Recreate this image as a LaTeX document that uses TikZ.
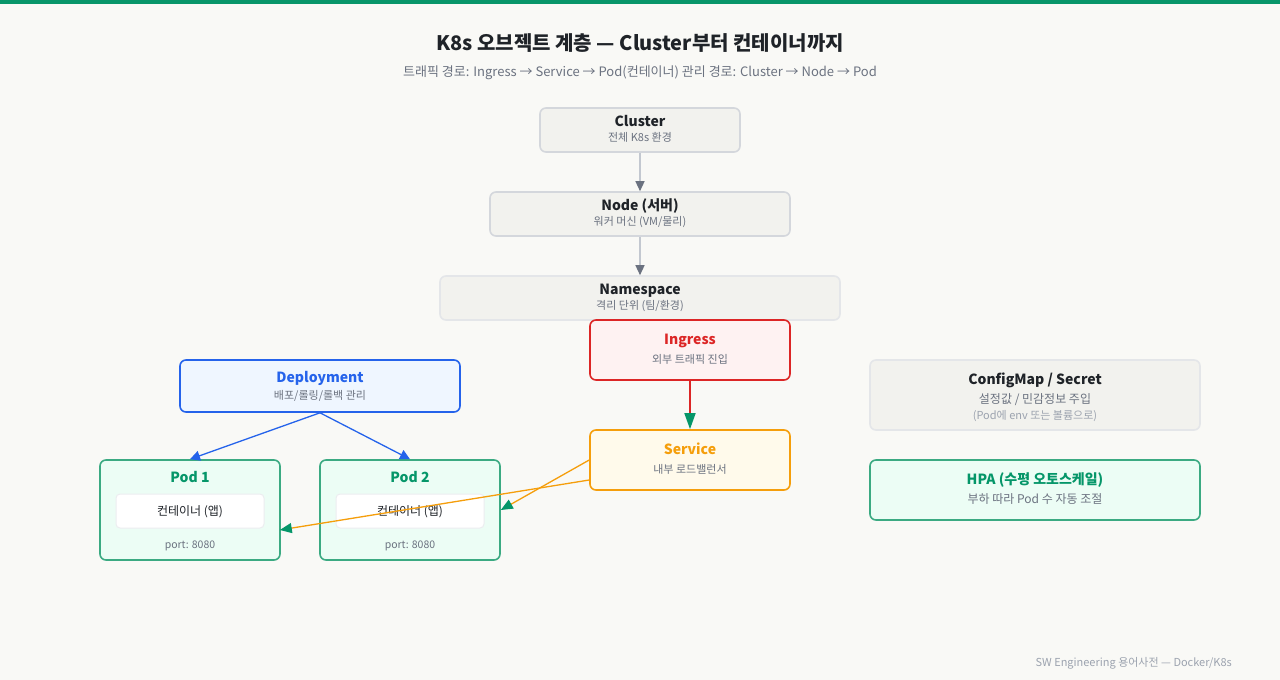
\documentclass[tikz,border=0pt]{standalone}
\usepackage{fontspec}
\setmainfont{Noto Sans CJK KR}
\usetikzlibrary{arrows.meta,calc}

\definecolor{bgc}{HTML}{F9F9F6}
\definecolor{topbar}{HTML}{08966A}
\definecolor{ink}{HTML}{1F2328}
\definecolor{subink}{HTML}{6B7280}
\definecolor{faint}{HTML}{9CA3AF}
\definecolor{grayfill}{HTML}{F2F2EE}
\definecolor{grayline}{HTML}{D4D7DC}
\definecolor{paleline}{HTML}{E4E6E9}
\definecolor{arrgray}{HTML}{6B7280}
\definecolor{arrline}{HTML}{C3C8D0}
\definecolor{redc}{HTML}{DC2626}
\definecolor{redfill}{HTML}{FEF2F2}
\definecolor{ambc}{HTML}{F59E0B}
\definecolor{ambfill}{HTML}{FFFAEB}
\definecolor{bluec}{HTML}{2563EB}
\definecolor{bluefill}{HTML}{EFF6FF}
\definecolor{greenc}{HTML}{059669}
\definecolor{greenline}{HTML}{3BAA82}
\definecolor{greenfill}{HTML}{ECFDF5}
\definecolor{headgreen}{HTML}{059669}

\newcommand{\fs}[1]{\fontsize{#1}{#1}\selectfont}

\tikzset{
  box/.style={rectangle, rounded corners=6pt, inner sep=0pt, line width=1.6pt},
  graybox/.style={box, draw=grayline, fill=grayfill},
  palebox/.style={box, draw=paleline, fill=grayfill},
  redbox/.style={box, draw=redc, fill=redfill},
  ambbox/.style={box, draw=ambc, fill=ambfill},
  bluebox/.style={box, draw=bluec, fill=bluefill},
  greenbox/.style={box, draw=greenline, fill=greenfill},
  innerbox/.style={rectangle, rounded corners=4pt, inner sep=0pt, line width=1pt, draw=paleline!70, fill=white},
  ttl/.style={inner sep=0pt, anchor=base, font=\fs{14}\bfseries},
  sub/.style={inner sep=0pt, anchor=base, font=\fs{11}, text=subink},
  conn/.style={line width=1.3pt},
}

\begin{document}
\begin{tikzpicture}[x=1pt,y=-1pt]
  % canvas
  \fill[bgc] (0,0) rectangle (1280,680);
  \useasboundingbox (0,0) rectangle (1280,680);
  \fill[topbar] (0,0) rectangle (1280,4);

  % heading
  \node[inner sep=0pt, anchor=base, font=\fs{20}\bfseries, text=ink] (title) at (640,50) {K8s 오브젝트 계층 — Cluster부터 컨테이너까지};
  \node[inner sep=0pt, anchor=base, font=\fs{13}, text=subink] (subtitle) at (640,76) {트래픽 경로: Ingress → Service → Pod(컨테이너) 관리 경로: Cluster → Node → Pod};

  % hierarchy column
  \node[graybox, minimum width=200pt, minimum height=44pt] (cluster) at (640,130) {};
  \node[ttl, text=ink] (clusterT) at (640,126) {Cluster};
  \node[sub] (clusterS) at (640,141) {전체 K8s 환경};

  \node[graybox, minimum width=300pt, minimum height=44pt] (node) at (640,214) {};
  \node[ttl, text=ink] (nodeT) at (640,210) {Node (서버)};
  \node[sub] (nodeS) at (640,225) {워커 머신 (VM/물리)};

  \node[palebox, minimum width=400pt, minimum height=44pt] (ns) at (640,298) {};
  \node[ttl, text=ink] (nsT) at (640,294) {Namespace};
  \node[sub] (nsS) at (640,309) {격리 단위 (팀/환경)};

  % traffic path
  \node[redbox, minimum width=200pt, minimum height=60pt] (ingress) at (690,350) {};
  \node[ttl, text=redc] (ingressT) at (690,344) {Ingress};
  \node[sub] (ingressS) at (690,363) {외부 트래픽 진입};

  \node[ambbox, minimum width=200pt, minimum height=60pt] (service) at (690,460) {};
  \node[ttl, text=ambc] (serviceT) at (690,454) {Service};
  \node[sub] (serviceS) at (690,473) {내부 로드밸런서};

  % workload
  \node[bluebox, minimum width=280pt, minimum height=52pt] (deploy) at (320,386) {};
  \node[ttl, text=bluec] (deployT) at (320,382) {Deployment};
  \node[sub] (deployS) at (320,399) {배포/롤링/롤백 관리};

  \node[greenbox, minimum width=180pt, minimum height=100pt] (pod1) at (190,510) {};
  \node[ttl, text=greenc] (pod1T) at (190,482) {Pod 1};
  \node[innerbox, minimum width=148pt, minimum height=34pt] (pod1c) at (190,511) {};
  \node[inner sep=0pt, anchor=base, font=\fs{12}, text=ink] (pod1cT) at (190,515) {컨테이너 (앱)};
  \node[sub, font=\fs{10.5}] (pod1P) at (190,548) {port: 8080};

  \node[greenbox, minimum width=180pt, minimum height=100pt] (pod2) at (410,510) {};
  \node[ttl, text=greenc] (pod2T) at (410,482) {Pod 2};
  \node[innerbox, minimum width=148pt, minimum height=34pt] (pod2c) at (410,511) {};
  \node[inner sep=0pt, anchor=base, font=\fs{12}, text=ink] (pod2cT) at (410,515) {컨테이너 (앱)};
  \node[sub, font=\fs{10.5}] (pod2P) at (410,548) {port: 8080};

  % side objects
  \node[palebox, minimum width=330pt, minimum height=70pt] (cfg) at (1035,395) {};
  \node[ttl, text=ink] (cfgT) at (1035,384) {ConfigMap / Secret};
  \node[sub, font=\fs{12}] (cfgS) at (1035,403) {설정값 / 민감정보 주입};
  \node[inner sep=0pt, anchor=base, font=\fs{11}, text=faint] (cfgN) at (1035,419) {(Pod에 env 또는 볼륨으로)};

  \node[greenbox, minimum width=330pt, minimum height=60pt] (hpa) at (1035,490) {};
  \node[ttl, text=greenc] (hpaT) at (1035,484) {HPA (수평 오토스케일)};
  \node[sub, font=\fs{12}] (hpaS) at (1035,503) {부하 따라 Pod 수 자동 조절};

  % connectors
  \draw[conn, draw=arrline, -{Triangle[length=10pt, width=9pt, color=arrgray]}] (cluster.south) -- (node.north);
  \draw[conn, draw=arrline, -{Triangle[length=10pt, width=9pt, color=arrgray]}] (node.south) -- (ns.north);
  \draw[conn, draw=bluec, -{Triangle[length=10pt, width=10pt]}] (deploy.south) -- (pod1.north);
  \draw[conn, draw=bluec, -{Triangle[length=10pt, width=10pt]}] (deploy.south) -- (pod2.north);
  \draw[conn, line width=1.6pt, draw=redc, -{Triangle[length=16pt, width=11pt, color=headgreen]}] (ingress.south) -- (service.north);
  \draw[conn, draw=ambc, -{Triangle[length=12pt, width=10pt, color=headgreen]}] (service.west) -- (pod2.east);
  \draw[conn, draw=ambc, -{Triangle[length=12pt, width=10pt, color=headgreen]}] ($(service.west)+(0,20)$) -- ($(pod1.east)+(-1,20)$);

  % footer
  \node[inner sep=0pt, anchor=base east, font=\fs{11}, text=faint] (footer) at (1232,666) {SW Engineering 용어사전 — Docker/K8s};
\end{tikzpicture}
\end{document}
